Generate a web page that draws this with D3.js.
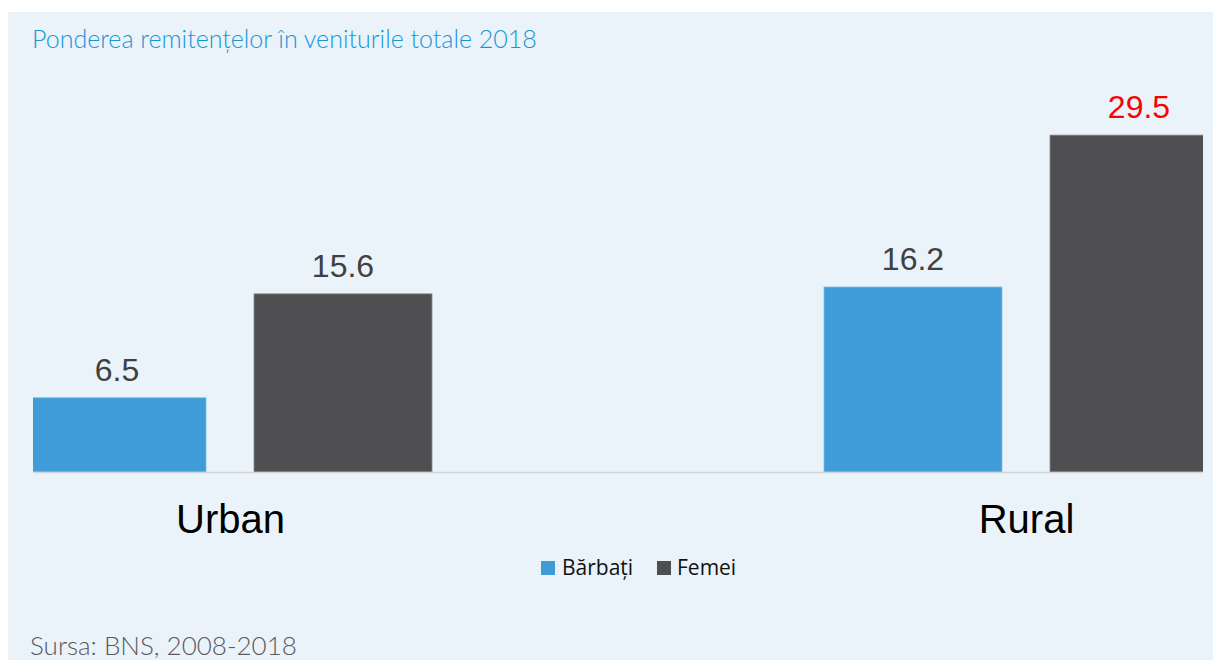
<!DOCTYPE html>
<html>
<head>
<meta charset="utf-8">
<script src="https://cdn.jsdelivr.net/npm/d3@7"></script>
<style>
  html, body { margin: 0; padding: 0; background: #ffffff; }
  svg { display: block; }
</style>
</head>
<body>
<svg id="chart" width="1213" height="660"></svg>
<script>
const titleText = "Ponderea remitențelor în veniturile totale 2018";
const sourceText = "Sursa: BNS, 2008-2018";
const categories = ["Urban", "Rural"];
const seriesNames = ["Bărbați", "Femei"];
const barbati = [6.5, 16.2];
const femei = [15.6, 29.5];
const colors = ["#3f9cd9", "#4f4f51"];
const labelColors = [["#404040", "#404040"], ["#404040", "#ff0000"]];

const svg = d3.select("#chart");
const W = 1213, H = 660;

svg.append("rect").attr("x", 8).attr("y", 12).attr("width", W - 8).attr("height", H - 12).attr("fill", "#eaf2fa");

svg.append("text").attr("x", 32).attr("y", 48)
  .attr("font-family", "Lato, 'Open Sans', sans-serif").attr("font-size", 25).attr("font-weight", 300)
  .attr("fill", "#1597d6").text(titleText);

const plotLeft = 33, plotRight = 1203, baseline = 472;

const x0 = d3.scalePoint().domain(categories).range([230, 1026]);
const x1 = d3.scaleBand().domain(seriesNames).range([-226, 226]).paddingInner(0.2124).paddingOuter(0.1062);
const y = d3.scaleLinear().domain([0, 30]).range([baseline, baseline - 342.6]);

const data = categories.map((c, i) => ({
  cat: c,
  vals: [{s: seriesNames[0], v: barbati[i], k: 0}, {s: seriesNames[1], v: femei[i], k: 1}]
}));

svg.append("defs").append("clipPath").attr("id", "plotclip")
  .append("rect").attr("x", plotLeft).attr("y", 0).attr("width", plotRight - plotLeft).attr("height", baseline);

const barsG = svg.append("g").attr("clip-path", "url(#plotclip)");
const groups = barsG.selectAll("g.grp").data(data).join("g")
  .attr("class", "grp").attr("transform", d => `translate(${x0(d.cat)},0)`);
groups.selectAll("rect").data(d => d.vals).join("rect")
  .attr("x", d => x1(d.s)).attr("width", x1.bandwidth())
  .attr("y", d => y(d.v)).attr("height", d => y(0) - y(d.v))
  .attr("fill", d => colors[d.k])
  .attr("stroke", d => d.k === 0 ? "#7fbde6" : "#8a8a8c").attr("stroke-width", 0.8);

// axis baseline
svg.append("line").attr("x1", plotLeft).attr("x2", plotRight).attr("y1", baseline + 0.5).attr("y2", baseline + 0.5)
  .attr("stroke", "#d4d6d8").attr("stroke-width", 1.5);

// value labels
const labG = svg.append("g");
data.forEach((d, i) => {
  d.vals.forEach(b => {
    labG.append("text")
      .attr("x", x0(d.cat) + x1(b.s) + x1.bandwidth() / 2)
      .attr("y", y(b.v) - 17)
      .attr("text-anchor", "middle")
      .attr("font-family", "'Liberation Sans', Arial, sans-serif")
      .attr("font-size", 32)
      .attr("fill", labelColors[i][b.k])
      .text(b.v.toFixed(1));
  });
});

// category axis
const xAxis = d3.axisBottom(x0).tickSize(0).tickPadding(0);
const axG = svg.append("g").attr("transform", `translate(0,${baseline})`).call(xAxis);
axG.select(".domain").remove();
axG.selectAll("text")
  .attr("y", 61).attr("dy", 0)
  .attr("font-family", "'Liberation Sans', Arial, sans-serif")
  .attr("font-size", 40).attr("fill", "#000");

// legend
const legend = svg.append("g");
const legendItems = [{name: seriesNames[0], x: 541, tx: 562}, {name: seriesNames[1], x: 657, tx: 677}];
legendItems.forEach((l, i) => {
  legend.append("rect").attr("x", l.x).attr("y", 561).attr("width", 14).attr("height", 14).attr("fill", colors[i]);
  legend.append("text").attr("x", l.tx).attr("y", 575)
    .attr("font-family", "'Open Sans', Lato, sans-serif").attr("font-size", 21)
    .attr("fill", "#111").text(l.name);
});

// source
svg.append("text").attr("x", 30).attr("y", 655)
  .attr("font-family", "Lato, 'Open Sans', sans-serif").attr("font-size", 26).attr("font-weight", 300)
  .attr("fill", "#5a5a5a").text(sourceText);
</script>
</body>
</html>
